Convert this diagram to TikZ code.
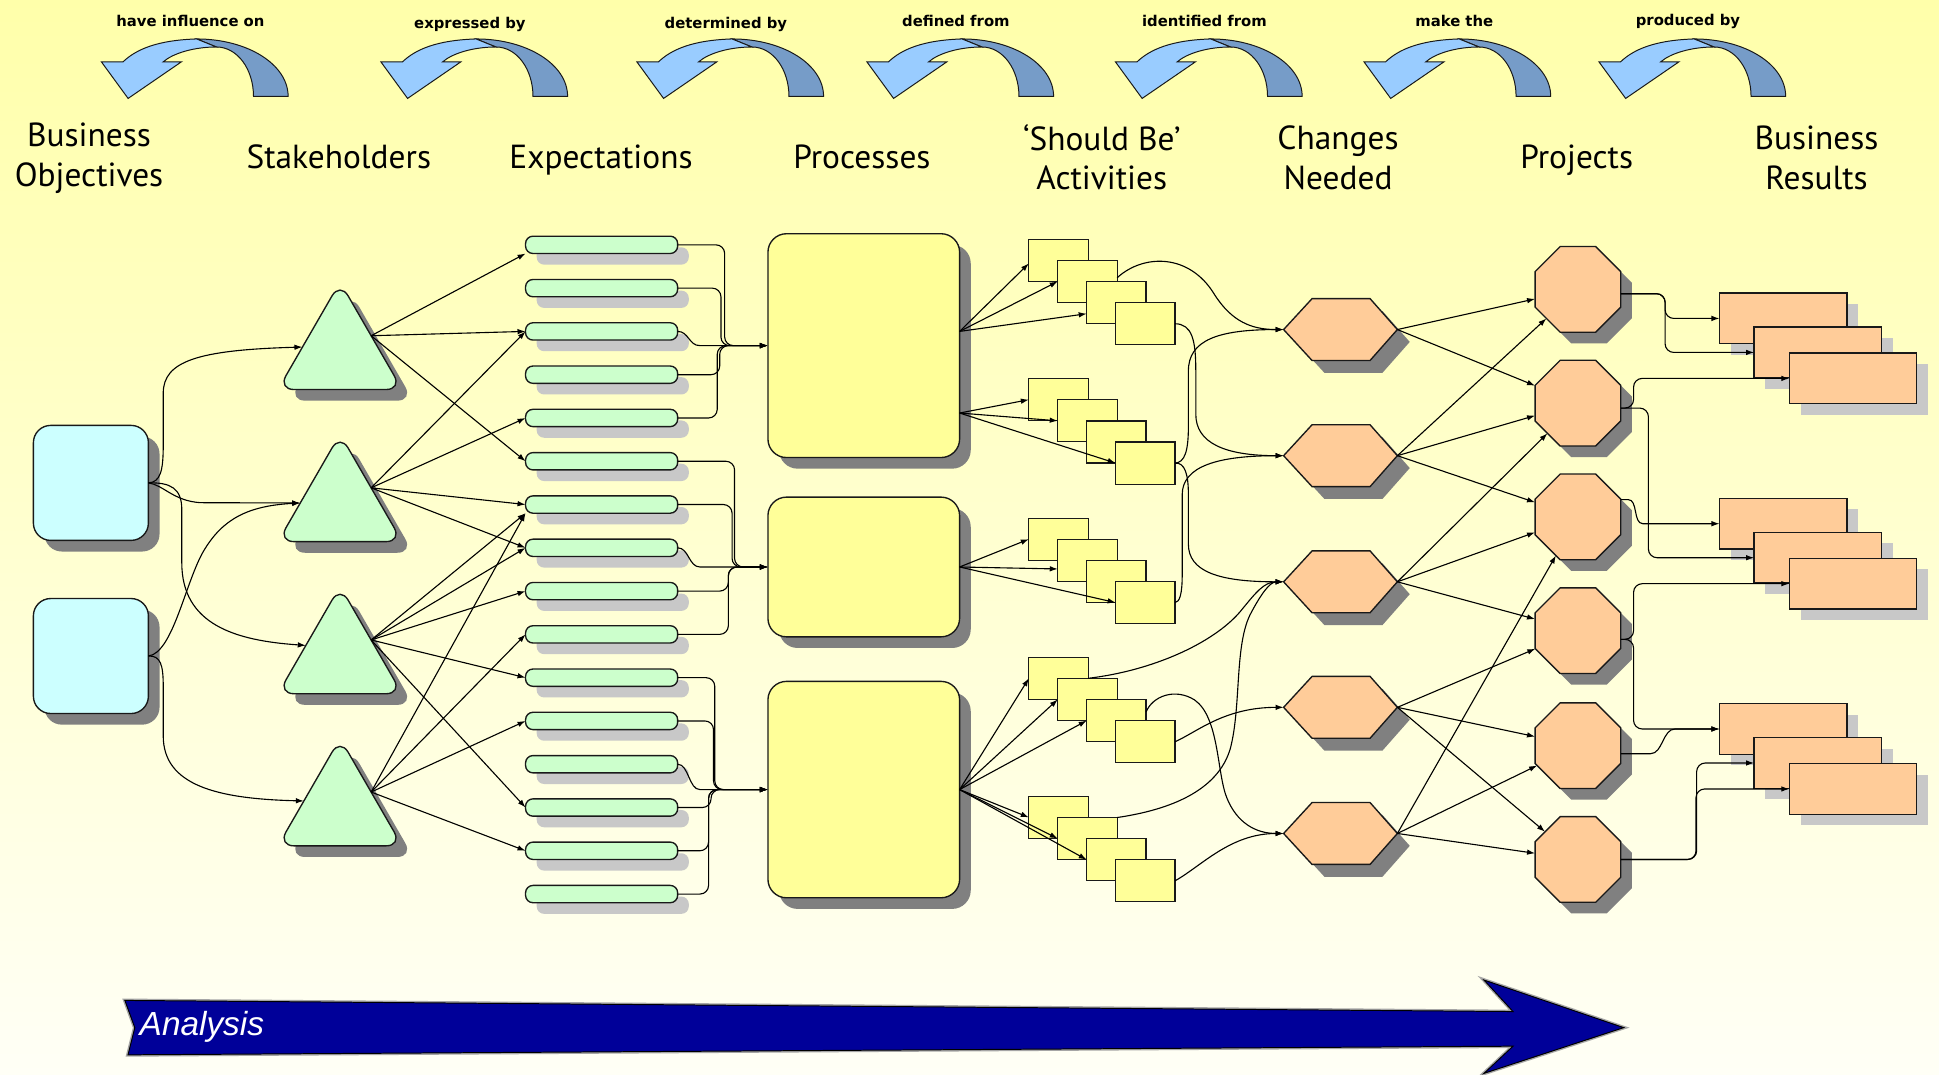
\documentclass[tikz,border=0pt]{standalone}
\usepackage{fontspec}
\setmainfont{PT Sans}
\newfontfamily\arialfont{Liberation Sans}
\newfontfamily\relfont{DejaVu Sans}
\usetikzlibrary{shapes.geometric, shadows, calc, arrows.meta}

\definecolor{bgtop}{RGB}{255,255,170}
\definecolor{bgbot}{RGB}{255,255,246}
\definecolor{objcol}{RGB}{204,255,255}
\definecolor{stkcol}{RGB}{204,255,204}
\definecolor{proccol}{RGB}{255,255,153}
\definecolor{chgcol}{RGB}{255,204,153}
\definecolor{shdark}{RGB}{128,128,128}
\definecolor{shlight}{RGB}{200,200,200}
\definecolor{arrlight}{RGB}{153,204,255}
\definecolor{arrdark}{RGB}{118,156,200}
\definecolor{anlblue}{RGB}{0,0,153}
\definecolor{outline}{RGB}{25,25,25}

% hexagon outline inside a named rectangular slot
\newcommand\hexpath[1]{(#1.west) -- ($(#1.north west)!0.25!(#1.north east)$) -- ($(#1.north west)!0.76!(#1.north east)$) -- (#1.east) -- ($(#1.south west)!0.76!(#1.south east)$) -- ($(#1.south west)!0.25!(#1.south east)$) -- cycle}

\tikzset{
  every node/.style={inner sep=0pt, outer sep=0pt},
  shapeline/.style={draw=outline, line width=1.1pt},
  darkshadow/.style={drop shadow={shadow xshift=9pt, shadow yshift=-9pt, fill=shdark, opacity=1}},
  lightshadow/.style={drop shadow={shadow xshift=9pt, shadow yshift=-9pt, fill=shlight, opacity=1}},
  objbox/.style={shapeline, rectangle, rounded corners=14pt, minimum width=93pt, minimum height=93pt, fill=objcol, darkshadow},
  stake/.style={shapeline, regular polygon, regular polygon sides=3, minimum size=116pt, rounded corners=13pt, fill=stkcol, darkshadow},
  expbar/.style={shapeline, rectangle, rounded corners=6pt, minimum width=123pt, minimum height=14pt, fill=stkcol, lightshadow},
  procbox/.style={shapeline, rectangle, rounded corners=15pt, minimum width=155pt, fill=proccol, darkshadow},
  actsq/.style={draw=outline, line width=1pt, rectangle, minimum width=48pt, minimum height=34pt, fill=proccol},
  hexslot/.style={rectangle, minimum width=92pt, minimum height=50pt},
  projoct/.style={shapeline, regular polygon, regular polygon sides=8, minimum size=75pt, fill=chgcol, darkshadow},
  resbox/.style={shapeline, rectangle, minimum width=103pt, minimum height=41pt, fill=chgcol, lightshadow},
  conn/.style={draw=black, line width=0.9pt},
  arr/.style={conn, -{Latex[length=6.5pt,width=4.5pt]}},
  bus/.style={arr, rounded corners=7pt},
  biglabel/.style={font=\fontsize{27}{32}\selectfont, align=center},
  smalllabel/.style={font=\relfont\fontsize{12}{14}\selectfont\bfseries},
  turnarrow/.pic={
    \path[fill=arrdark, draw=outline, line width=0.8pt]
      (77,-18.5) .. controls (118,-18.5) and (151,2) .. (151,28) -- (123,28)
      .. controls (123,6) and (110,-12) .. (93,-12) -- cycle;
    \path[fill=arrlight, draw=outline, line width=0.8pt]
      (0,0) -- (17.5,0) .. controls (28,-10) and (45,-17.5) .. (77,-18.5) -- (93,-12)
      .. controls (75,-12) and (58,-7) .. (50,0) -- (64.7,0) -- (21.6,29.6) -- cycle;
  }
}

\begin{document}
\begin{tikzpicture}[x=1pt, y=-1pt]
\useasboundingbox (0,0) rectangle (1568,869);
\shade[top color=bgtop, bottom color=bgbot] (0,0) rectangle (1568,869);

% ---- header: curved arrows, relation words and column titles
\foreach \ax in {82,308,515,701,902,1103,1293}
  \pic at (\ax,50) {turnarrow};
\node[smalllabel] (rel1) at (154,17) {have influence on};
\node[smalllabel] (rel2) at (380,20) {expressed by};
\node[smalllabel] (rel3) at (587,20) {determined by};
\node[smalllabel] (rel4) at (773,17) {defined from};
\node[smalllabel] (rel5) at (974,17) {identified from};
\node[smalllabel] (rel6) at (1176,17) {make the};
\node[smalllabel] (rel7) at (1365,17) {produced by};

\node[biglabel] (hd1) at (72,128) {Business\\Objectives};
\node[biglabel, anchor=base] (hd2) at (274,136) {Stakeholders};
\node[biglabel, anchor=base] (hd3) at (486,136) {Expectations};
\node[biglabel, anchor=base] (hd4) at (697,136) {Processes};
\node[biglabel] (hd5) at (891,127) {‘Should Be’\\Activities};
\node[biglabel] (hd6) at (1082,127.5) {Changes\\Needed};
\node[biglabel, anchor=base] (hd7) at (1275,136) {Projects};
\node[biglabel] (hd8) at (1469,127.5) {Business\\Results};

% ---- shapes
\node[objbox] (bo1) at (73.5,390.5) {};
\node[objbox] (bo2) at (73.5,530.5) {};

\node[stake] (t1) at (275,286) {};
\node[stake] (t2) at (275,409) {};
\node[stake] (t3) at (275,532) {};
\node[stake] (t4) at (275,655) {};

\foreach \k in {1,...,16}
  \node[expbar] (b\k) at (486.5,{198+35*(\k-1)}) {};

\node[procbox, minimum height=181pt] (p1) at (698.5,279.5) {};
\node[procbox, minimum height=113pt] (p2) at (698.5,458.5) {};
\node[procbox, minimum height=175pt] (p3) at (698.5,638.5) {};

\foreach \k/\t in {1/193.5, 2/306.2, 3/419, 4/531.5, 5/644}
  \foreach \j in {1,...,4}
    \node[actsq] (s\k\j) at ({856+23.4*(\j-1)},{\t+17+17.1*(\j-1)}) {};

\foreach \k/\y in {1/266.5, 2/368.5, 3/470.5, 4/572, 5/674} {
  \node[hexslot] (hx\k) at (1084,\y) {};
  \path[fill=shdark, transform canvas={xshift=10pt, yshift=-10pt}] \hexpath{hx\k};
  \path[fill=chgcol, shapeline] \hexpath{hx\k};
}

\foreach \k/\y in {1/234, 2/326, 3/418, 4/510, 5/603, 6/695}
  \node[projoct] (o\k) at (1276,\y) {};

\node[resbox] (r1a) at (1442,257.5) {};
\node[resbox] (r1b) at (1470,285) {};
\node[resbox] (r1c) at (1498.5,306) {};
\node[resbox] (r2a) at (1442,423.5) {};
\node[resbox] (r2b) at (1470,451) {};
\node[resbox] (r2c) at (1498.5,472) {};
\node[resbox] (r3a) at (1442,589.5) {};
\node[resbox] (r3b) at (1470,617) {};
\node[resbox] (r3c) at (1498.5,638) {};

% ---- objectives -> stakeholders
\draw[arr] (bo1.east) .. controls (130,390) and (132,380) .. (132,360) -- (132,318) .. controls (132,292) and (160,283) .. (t1.170);
\draw[arr] (bo1.east) .. controls (132,392) and (140,405) .. (162,406.5) -- (t2.176);
\draw[arr] (bo1.east) .. controls (138,390) and (147,395) .. (147,412) -- (147,455) .. controls (147,505) and (190,518) .. (t3.160);
\draw[arr] (bo2.east) .. controls (140,528) and (150,470) .. (165,445) .. controls (180,420) and (200,409) .. (t2.176);
\draw[arr] (bo2.east) .. controls (130,530) and (132,538) .. (132,555) -- (132,595) .. controls (132,635) and (175,646) .. (t4.166);

% ---- stakeholders -> expectations
\draw[arr] (t1.side 3) -- (b1.south west);
\draw[arr] (t1.side 3) -- (b3.west);
\draw[arr] (t1.side 3) -- (b6.west);
\draw[arr] (t2.side 3) -- (b3.west);
\draw[arr] (t2.side 3) -- (b5.west);
\draw[arr] (t2.side 3) -- (b7.west);
\draw[arr] (t2.side 3) -- (b8.west);
\draw[arr] (t3.side 3) -- (b7.south west);
\draw[arr] (t3.side 3) -- (b8.west);
\draw[arr] (t3.side 3) -- (b9.west);
\draw[arr] (t3.side 3) -- (b11.west);
\draw[arr] (t3.side 3) -- (b14.west);
\draw[arr] (t4.side 3) -- (b7.south west);
\draw[arr] (t4.side 3) -- (b10.west);
\draw[arr] (t4.side 3) -- (b12.west);
\draw[arr] (t4.side 3) -- (b15.west);

% ---- expectations -> processes
\draw[bus] (b1.east) -| ($(p1.west)+(-35,0)$) -- (p1.west);
\draw[bus] (b2.east) -| ($(p1.west)+(-38,0)$) -- (p1.west);
\draw[arr] (b3.east) .. controls +(9,0) and +(-9,0) .. ($(p1.west)+(-55,0)$) -- (p1.west);
\draw[bus] (b4.east) -| ($(p1.west)+(-39,0)$) -- (p1.west);
\draw[bus] (b5.east) -| ($(p1.west)+(-41,0)$) -- (p1.west);

\draw[bus] (b6.east) -| ($(p2.west)+(-27,0)$) -- (p2.west);
\draw[bus] (b7.east) -| ($(p2.west)+(-29,0)$) -- (p2.west);
\draw[arr] (b8.east) .. controls +(9,0) and +(-9,0) .. ($(p2.west)+(-55,0)$) -- (p2.west);
\draw[bus] (b9.east) -| ($(p2.west)+(-32,0)$) -- (p2.west);
\draw[bus] (b10.east) -| ($(p2.west)+(-32,0)$) -- (p2.west);

\draw[bus] (b11.east) -| ($(p3.west)+(-43,0)$) -- (p3.west);
\draw[bus] (b12.east) -| ($(p3.west)+(-44,0)$) -- (p3.west);
\draw[arr] (b13.east) .. controls +(9,0) and +(-9,0) .. ($(p3.west)+(-55,0)$) -- (p3.west);
\draw[bus] (b14.east) -| ($(p3.west)+(-46,0)$) -- (p3.west);
\draw[bus] (b15.east) -| ($(p3.west)+(-48,0)$) -- (p3.west);
\draw[bus] (b16.east) -| ($(p3.west)+(-48,0)$) -- (p3.west);

% ---- processes -> 'should be' activities
\draw[arr] ($(p1.east)+(0,-11.5)$) -- ($(s11.west)+(0,2.5)$);
\draw[arr] ($(p1.east)+(0,-11.5)$) -- (s12.west);
\draw[arr] ($(p1.east)+(0,-11.5)$) -- ($(s13.west)+(0,9)$);
\draw[arr] ($(p1.east)+(0,54.5)$) -- (s21.west);
\draw[arr] ($(p1.east)+(0,54.5)$) -- (s22.west);
\draw[arr] ($(p1.east)+(0,54.5)$) -- (s24.west);
\draw[arr] (p2.east) -- (s31.west);
\draw[arr] (p2.east) -- ($(s32.west)+(0,7)$);
\draw[arr] (p2.east) -- (s34.west);
\draw[arr] (p3.east) -- (s41.west);
\draw[arr] (p3.east) -- (s42.west);
\draw[arr] (p3.east) -- (s43.west);
\draw[arr] (p3.east) -- (s51.west);
\draw[arr] (p3.east) -- (s52.west);
\draw[arr] (p3.east) -- (s53.west);

% ---- activities -> changes needed
\draw[arr] ($(s12.east)+(0,-3)$) .. controls (925,205) and (962,205) .. (982,238) .. controls (996,260) and (1012,266.5) .. (hx1.west);
\draw[arr] (s14.east) .. controls (964,262) and (967,275) .. (967,300) -- (967,335) .. controls (967,358) and (990,368.5) .. (hx2.west);
\draw[arr] (s24.east) .. controls (958,374) and (961,365) .. (961,345) -- (961,300) .. controls (961,275) and (985,266.5) .. (hx1.west);
\draw[arr] (s24.east) .. controls (958,374) and (961,383) .. (961,400) -- (961,440) .. controls (961,462) and (985,470.5) .. (hx3.west);
\draw[arr] (s34.east) .. controls (954,487) and (956,480) .. (956,465) -- (956,400) .. controls (956,377) and (985,368.5) .. (hx2.west);
\draw[arr] (s41.east) .. controls (935,542) and (985,518) .. (1005,492) .. controls (1015,480) and (1022,470.5) .. (hx3.west);
\draw[arr] ($(s43.north east)+(0,10)$) .. controls (932,563) and (950,556) .. (966,566) .. controls (986,580) and (984,625) .. (992,645) .. controls (1000,665) and (1015,674) .. (hx5.west);
\draw[arr] (s44.east) .. controls (968,592) and (990,572) .. (hx4.west);
\draw[arr] (s52.north east) .. controls (945,655) and (985,640) .. (995,605) .. controls (1004,570) and (998,520) .. (1012,495) .. controls (1020,480) and (1027,470.5) .. (hx3.west);
\draw[arr] (s54.east) .. controls (972,700) and (995,674) .. (hx5.west);

% ---- changes needed -> projects
\draw[arr] (hx1.east) -- (o1);
\draw[arr] (hx1.east) -- (o2);
\draw[arr] (hx2.east) -- (o1);
\draw[arr] (hx2.east) -- (o2);
\draw[arr] (hx2.east) -- (o3);
\draw[arr] (hx3.east) -- (o2);
\draw[arr] (hx3.east) -- (o3);
\draw[arr] (hx3.east) -- (o4);
\draw[arr] (hx4.east) -- (o4);
\draw[arr] (hx4.east) -- (o5);
\draw[arr] (hx4.east) -- (o6);
\draw[arr] (hx5.east) -- (o3);
\draw[arr] (hx5.east) -- (o5);
\draw[arr] (hx5.east) -- (o6);

% ---- projects -> business results
\draw[bus] ($(o1.east)+(0,3.5)$) -| ($(r1a.west)+(-44,0)$) -- (r1a.west);
\draw[bus] ($(o1.east)+(0,3.5)$) -| ($(r1b.west)+(-72,0)$) -- (r1b.west);
\draw[bus] ($(o2.east)+(0,4)$) -| ($(r1c.west)+(-126,0)$) -- (r1c.west);
\draw[bus] ($(o2.east)+(0,4)$) -| ($(r2b.west)+(-85.5,0)$) -- (r2b.west);
\draw[arr] ($(o3.east)+(0,-14)$) -- ++(6,0) .. controls +(8,0) and +(-8,0) .. ($(r2a.west)+(-62,0)$) -- (r2a.west);
\draw[bus] ($(o4.east)+(0,7)$) -| ($(r2c.west)+(-126,0)$) -- (r2c.west);
\draw[bus] ($(o4.east)+(0,7)$) -| ($(r3a.west)+(-69.5,0)$) -- (r3a.west);
\draw[arr] ($(o5.east)+(0,6.5)$) -- ++(24,0) .. controls +(10,0) and +(-10,0) .. ($(r3a.west)+(-36,0)$) -- (r3a.west);
\draw[bus] (o6.east) -| ($(r3b.west)+(-46.5,0)$) -- (r3b.west);
\draw[bus] (o6.east) -| ($(r3c.west)+(-75.5,0)$) -- (r3c.west);

% ---- analysis arrow
\path[draw=shdark!70, line width=3pt, line join=miter]
  (101,809) -- (1223.5,818) -- (1200,792.5) -- (1313,831) -- (1200,868) -- (1223.5,846) -- (103.5,853) -- (109,831) -- cycle;
\path[fill=anlblue, draw=black, line width=0.8pt]
  (101,809) -- (1223.5,818) -- (1200,792.5) -- (1313,831) -- (1200,868) -- (1223.5,846) -- (103.5,853) -- (109,831) -- cycle;
\node[font=\arialfont\itshape\fontsize{27}{30}\selectfont, text=white, anchor=west] (anl) at (113,830) {Analysis};
\end{tikzpicture}
\end{document}
